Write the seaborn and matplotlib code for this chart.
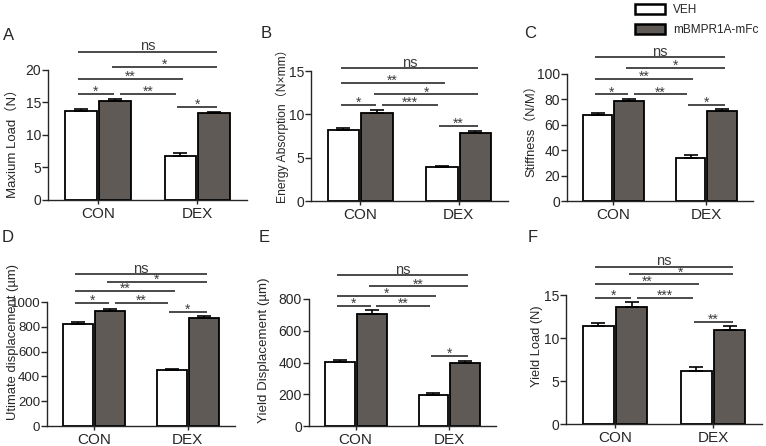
import matplotlib
matplotlib.use('Agg')
import matplotlib.pyplot as plt
from matplotlib.patches import Patch
import seaborn as sns
import pandas as pd

groups = ['CON', 'DEX']
treatments = ['VEH', 'mBMPR1A-mFc']

# panel A - maximum load
load_veh = [13.7, 6.7]
load_mb = [15.3, 13.4]
load_veh_err = [0.25, 0.5]
load_mb_err = [0.3, 0.2]

# panel B - energy absorption
energy_veh = [8.2, 3.9]
energy_mb = [10.2, 7.9]
energy_veh_err = [0.25, 0.15]
energy_mb_err = [0.25, 0.2]

# panel C - stiffness
stiff_veh = [67.7, 33.6]
stiff_mb = [78.7, 70.9]
stiff_veh_err = [1.8, 2.6]
stiff_mb_err = [1.6, 1.8]

# panel D - ultimate displacement
udisp_veh = [825, 452]
udisp_mb = [927, 871]
udisp_veh_err = [15, 10]
udisp_mb_err = [14, 16]

# panel E - yield displacement
ydisp_veh = [405, 196]
ydisp_mb = [707, 396]
ydisp_veh_err = [12, 10]
ydisp_mb_err = [25, 12]

# panel F - yield load
yload_veh = [11.4, 6.16]
yload_mb = [13.57, 10.93]
yload_veh_err = [0.4, 0.44]
yload_mb_err = [0.6, 0.47]

# significance brackets: (bar_from, bar_to, height, label); bars 0..3 = CON-VEH, CON-mB, DEX-VEH, DEX-mB
sig_a = [(0, 3, 22.8, 'ns'), (1, 3, 20.5, '*'), (0, 2, 18.6, '**'), (0, 1, 16.3, '*'), (1, 2, 16.3, '**'), (2, 3, 14.3, '*')]
sig_b = [(0, 3, 15.3, 'ns'), (0, 2, 13.6, '**'), (1, 3, 12.3, '*'), (0, 1, 11.1, '*'), (1, 2, 11.1, '***'), (2, 3, 8.65, '**')]
sig_c = [(0, 3, 113, 'ns'), (1, 3, 105, '*'), (0, 2, 96, '**'), (0, 1, 84, '*'), (1, 2, 84, '**'), (2, 3, 75.6, '*')]
sig_d = [(0, 3, 1226, 'ns'), (1, 3, 1161, '*'), (0, 2, 1089, '**'), (0, 1, 992, '*'), (1, 2, 992, '**'), (2, 3, 919, '*')]
sig_e = [(0, 3, 950, 'ns'), (1, 3, 880, '**'), (0, 2, 818, '*'), (0, 1, 755, '*'), (1, 2, 755, '**'), (2, 3, 440, '*')]
sig_f = [(0, 3, 18.3, 'ns'), (1, 3, 17.4, '*'), (0, 2, 16.3, '**'), (0, 1, 14.7, '*'), (1, 2, 14.7, '***'), (2, 3, 11.9, '**')]

colors = ['#ffffff', '#5f5a56']
line_col = '#3c3c3c'

sns.set_style('ticks')
plt.rcParams['font.family'] = ['Liberation Sans', 'Noto Sans CJK SC']
plt.rcParams['axes.linewidth'] = 1.0


def make_df(veh, mb):
    rows = []
    for i, g in enumerate(groups):
        rows.append({'group': g, 'treat': treatments[0], 'value': veh[i]})
        rows.append({'group': g, 'treat': treatments[1], 'value': mb[i]})
    return pd.DataFrame(rows)


def draw_panel(ax, veh, mb, veh_err, mb_err, ymax, ystep, ylabel, ylabel_size, label_xy, sigs, ytick_size=10):
    df = make_df(veh, mb)
    sns.barplot(data=df, x='group', y='value', hue='treat', order=groups, hue_order=treatments,
                palette=colors, saturation=1, width=0.68, gap=0.06, edgecolor='black',
                linewidth=1.3, errorbar=None, legend=False, ax=ax)
    # one-sided error bars on top of each bar
    centers = {}
    for k, (cont, errs) in enumerate(zip(ax.containers, [veh_err, mb_err])):
        xs = [p.get_x() + p.get_width() / 2 for p in cont.patches]
        hs = [p.get_height() for p in cont.patches]
        ax.errorbar(xs, hs, yerr=[[0] * len(errs), errs], fmt='none', ecolor='black',
                     elinewidth=1.2, capsize=5, capthick=1.2, zorder=1)
        for gi, x in enumerate(xs):
            centers[gi * 2 + k] = x
    for i, j, y, lab in sigs:
        x1 = centers[i] - 0.03
        x2 = centers[j] + 0.03
        if (i, j) == (1, 2):
            x1 = centers[i] + 0.05
            x2 = centers[j] - 0.04
        if (i, j) == (0, 1):
            x2 = centers[j] - 0.01
        ax.plot([x1, x2], [y, y], color=line_col, lw=1.3, clip_on=False, solid_capstyle='butt')
        fs = 10.5 if lab == 'ns' else 10
        dy = 1 if lab == 'ns' else -1.5
        ax.annotate(lab, xy=((x1 + x2) / 2, y), xytext=(0, dy), textcoords='offset points',
                    ha='center', va='baseline', fontsize=fs, color=line_col, annotation_clip=False)
    ax.set_xlim(-0.5, 1.5)
    ax.set_ylim(0, ymax)
    ax.set_yticks(range(0, ymax + 1, ystep))
    ax.set_xlabel('')
    ax.set_ylabel(ylabel, fontsize=ylabel_size)
    ax.yaxis.set_label_coords(*label_xy)
    ax.tick_params(axis='y', labelsize=ytick_size, length=4, width=1, pad=1)
    ax.tick_params(axis='x', labelsize=11, length=3, width=1, pad=2)
    sns.despine(ax=ax)


fig = plt.figure(figsize=(7.66, 4.46), dpi=100)
ax_a = fig.add_axes([0.0627, 0.5516, 0.260, 0.2915])
ax_b = fig.add_axes([0.406, 0.5493, 0.257, 0.2915])
ax_c = fig.add_axes([0.740, 0.5493, 0.243, 0.2848])
ax_d = fig.add_axes([0.0614, 0.0448, 0.245, 0.278])
ax_e = fig.add_axes([0.403, 0.0448, 0.245, 0.2848])
ax_f = fig.add_axes([0.739, 0.0493, 0.256, 0.289])

draw_panel(ax_a, load_veh, load_mb, load_veh_err, load_mb_err, 20, 5, 'Maxium Load（N）', 9.5, (-0.146, 0.46), sig_a)
draw_panel(ax_b, energy_veh, energy_mb, energy_veh_err, energy_mb_err, 15, 5, 'Energy Absorption（N×mm）', 8.7, (-0.112, 0.596), sig_b)
draw_panel(ax_c, stiff_veh, stiff_mb, stiff_veh_err, stiff_mb_err, 100, 20, 'Stiffness（N/M）', 9.3, (-0.161, 0.58), sig_c)
draw_panel(ax_d, udisp_veh, udisp_mb, udisp_veh_err, udisp_mb_err, 1000, 200, 'Utimate displacement (µm)', 9.4, (-0.15, 0.68), sig_d, ytick_size=9.5)
draw_panel(ax_e, ydisp_veh, ydisp_mb, ydisp_veh_err, ydisp_mb_err, 800, 200, 'Yield Displacement (µm)', 9.6, (-0.207, 0.60), sig_e)
draw_panel(ax_f, yload_veh, yload_mb, yload_veh_err, yload_mb_err, 15, 5, 'Yield Load (N)', 9.3, (-0.117, 0.605), sig_f)

for lab, x, y in [('A', 9, 35), ('B', 266, 34), ('C', 530, 34), ('D', 8, 238), ('E', 264, 238), ('F', 533, 237)]:
    fig.text(x / 766, 1 - y / 446, lab, fontsize=12, ha='center', va='center')

handles = [Patch(facecolor=c, edgecolor='black', linewidth=1.8) for c in colors]
fig.legend(handles, treatments, loc='upper left', bbox_to_anchor=(635 / 766, 1 - 4 / 446),
           frameon=False, fontsize=8.5, handlelength=2.5, handleheight=0.9,
           handletextpad=0.7, labelspacing=0.65, borderpad=0, borderaxespad=0)

fig.savefig('out.png', dpi=100)
